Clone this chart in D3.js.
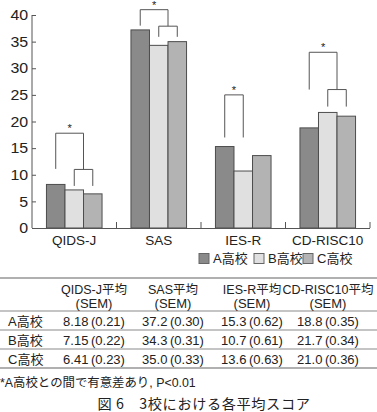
<!DOCTYPE html>
<html><head><meta charset="utf-8">
<script src="https://cdn.jsdelivr.net/npm/d3@7"></script>
<style>
body{margin:0;background:#fff;}
svg{display:block;font-family:"Liberation Sans","Noto Sans CJK JP",sans-serif;}
</style></head><body>
<svg id="c" width="377" height="412"></svg>
<script>
const categories = ["QIDS-J","SAS","IES-R","CD-RISC10"];
const schools = ["A高校","B高校","C高校"];
const valuesA = [8.18, 37.2, 15.3, 18.8];
const valuesB = [7.15, 34.3, 10.7, 21.7];
const valuesC = [6.41, 35.0, 13.6, 21.0];
const semA = ["0.21","0.30","0.62","0.35"];
const semB = ["0.22","0.31","0.61","0.34"];
const semC = ["0.23","0.33","0.63","0.36"];
const labelsA = ["8.18","37.2","15.3","18.8"];
const labelsB = ["7.15","34.3","10.7","21.7"];
const labelsC = ["6.41","35.0","13.6","21.0"];
const yTicks = [0,5,10,15,20,25,30,35,40];
const tableHeaders = ["QIDS-J平均","SAS平均","IES-R平均","CD-RISC10平均"];
// significance brackets (value units)
const bracketOuterTop = [17.8, 41.0, 25.0, 33.0];
const bracketLeftLeg = [11.1, 38.0, 17.0, 26.0];
const bracketInnerTop = [11.0, 37.9, null, 26.0];
const bracketInnerLeg = [7.9, 35.9, null, 22.8];
const bracketRightLeg = [null, null, 17.0, null];
const footnote = "*A高校との間で有意差あり, P<0.01";
const caption = "図 6　3校における各平均スコア";

const colors = ["#8a8a8a","#e0e0e0","#b3b3b3"];
const svg = d3.select("#c");
const series = [valuesA, valuesB, valuesC];

const y = d3.scaleLinear().domain([0,40]).range([228,15]);
const x0 = d3.scaleBand().domain(categories).range([32,370]).padding(0);
const x1 = d3.scaleBand().domain(schools).range([0,x0.bandwidth()]).paddingInner(0).paddingOuter(0.78);

// bars
const g = svg.append("g");
categories.forEach((cat,i)=>{
  schools.forEach((s,j)=>{
    const v = series[j][i];
    g.append("rect")
      .attr("x", x0(cat)+x1(s))
      .attr("y", y(v))
      .attr("width", x1.bandwidth())
      .attr("height", y(0)-y(v))
      .attr("fill", colors[j])
      .attr("stroke", "#4d4d4d").attr("stroke-width",1);
  });
});

// y axis
const yAxis = d3.axisLeft(y).tickValues(yTicks).tickSize(-4).tickPadding(8);
const ya = svg.append("g").attr("transform","translate(32,0)").call(yAxis);
ya.select(".domain").attr("stroke","#555").attr("d","M0,15V228");
ya.selectAll(".tick line").attr("stroke","#555");
ya.selectAll("text").attr("font-size",14.5).attr("fill","#222").attr("font-family","'Liberation Sans',sans-serif").attr("transform","scale(1.1,1)").attr("x",-3.5);

// x axis
svg.append("line").attr("x1",32).attr("x2",370).attr("y1",228.5).attr("y2",228.5).attr("stroke","#555");
categories.forEach((cat,i)=>{
  if(i>0){
    svg.append("line").attr("x1",x0(cat)).attr("x2",x0(cat)).attr("y1",222).attr("y2",228).attr("stroke","#555");
  }
  svg.append("text").attr("x",x0(cat)+x0.bandwidth()/2).attr("y",245)
    .attr("text-anchor","middle").attr("font-size",13.5).attr("fill","#222").text(cat);
});
svg.append("line").attr("x1",370).attr("x2",370).attr("y1",222).attr("y2",228).attr("stroke","#555");

// brackets
const bc = (cat,s)=> x0(cat)+x1(s)+x1.bandwidth()/2;
categories.forEach((cat,i)=>{
  const xa = bc(cat,schools[0]), xb = bc(cat,schools[1]), xcc = bc(cat,schools[2]);
  let xr;
  const path = d3.path();
  if(bracketInnerTop[i]!==null){
    xr = (xb+xcc)/2;
    path.moveTo(xa, y(bracketLeftLeg[i])); path.lineTo(xa, y(bracketOuterTop[i]));
    path.lineTo(xr, y(bracketOuterTop[i])); path.lineTo(xr, y(bracketInnerTop[i]));
    path.moveTo(xb, y(bracketInnerLeg[i])); path.lineTo(xb, y(bracketInnerTop[i]));
    path.lineTo(xcc, y(bracketInnerTop[i])); path.lineTo(xcc, y(bracketInnerLeg[i]));
  } else {
    xr = xb;
    path.moveTo(xa, y(bracketLeftLeg[i])); path.lineTo(xa, y(bracketOuterTop[i]));
    path.lineTo(xr, y(bracketOuterTop[i])); path.lineTo(xr, y(bracketRightLeg[i]));
  }
  svg.append("path").attr("d",path.toString()).attr("fill","none").attr("stroke","#555").attr("stroke-width",1);
  svg.append("text").attr("x",(xa+xr)/2).attr("y",y(bracketOuterTop[i])-1)
    .attr("text-anchor","middle").attr("font-size",11).attr("fill","#222").text("*");
});

// legend
const legX = [199,254,303];
schools.forEach((s,j)=>{
  svg.append("rect").attr("x",legX[j]).attr("y",253.5).attr("width",10).attr("height",10)
    .attr("fill",colors[j]).attr("stroke","#666");
  svg.append("text").attr("x",legX[j]+14).attr("y",263).attr("font-size",13).attr("fill","#222").text(s);
});

// table
const colX = [94,173,252,328];
const lineCol = "#b0b0b0";
[[278,2],[311,1.3],[330,1.3],[349,1.3],[368,2]].forEach(([yy,w])=>{
  svg.append("line").attr("x1",0).attr("x2",377).attr("y1",yy).attr("y2",yy).attr("stroke",lineCol).attr("stroke-width",w);
});
tableHeaders.forEach((h,i)=>{
  svg.append("text").attr("x",colX[i]).attr("y",294).attr("text-anchor","middle").attr("font-size",12.5).attr("fill","#222").text(h);
  svg.append("text").attr("x",colX[i]).attr("y",308).attr("text-anchor","middle").attr("font-size",13).attr("fill","#222").text("(SEM)");
});
const rowLabels = [labelsA,labelsB,labelsC];
const rowSems = [semA,semB,semC];
const rowY = [325.5,344.5,363.5];
schools.forEach((s,j)=>{
  svg.append("text").attr("x",8).attr("y",rowY[j]).attr("font-size",13).attr("fill","#222").text(s);
  categories.forEach((c,i)=>{
    svg.append("text").attr("x",colX[i]).attr("y",rowY[j]).attr("text-anchor","middle").attr("font-size",13).attr("fill","#222")
      .text(rowLabels[j][i]+"\u2009("+rowSems[j][i]+")");
  });
});
svg.append("text").attr("x",0).attr("y",387).attr("font-size",12.4).attr("fill","#222").text(footnote);
svg.append("text").attr("x",204).attr("y",409).attr("text-anchor","middle").attr("font-size",14.2).attr("letter-spacing",0.6).attr("fill","#222")
  .attr("font-family","'Noto Sans CJK JP',serif").text(caption);
</script>
</body></html>
